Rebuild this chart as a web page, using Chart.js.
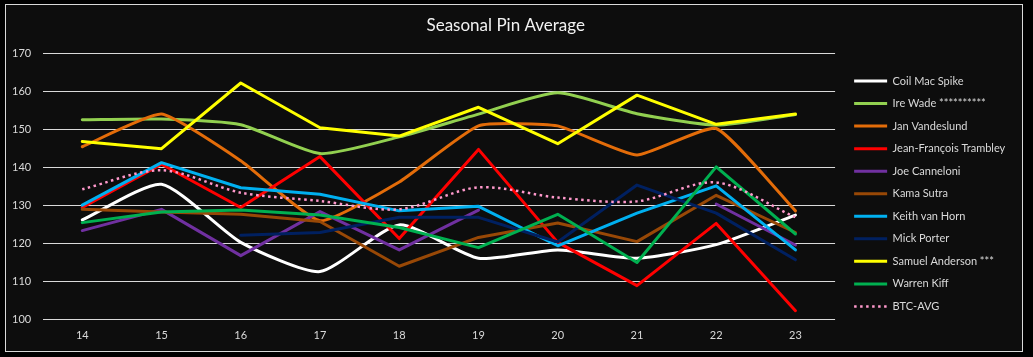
<!DOCTYPE html>
<html>
<head>
<meta charset="utf-8">
<script src="https://cdn.jsdelivr.net/npm/chart.js@4"></script>
<style>
  html, body { margin: 0; padding: 0; background: #000; }
  #frame { position: absolute; left: 5px; top: 4px; width: 1016px; height: 346px; border: 1px solid #d9d9d9; background: #0d0d0d; }
  canvas { display: block; }
</style>
</head>
<body>
<div id="frame"><canvas id="c" width="1016" height="346"></canvas></div>
<script>
const seasons = ['14','15','16','17','18','19','20','21','22','23'];

const coilMacSpike   = [126.1, 135.5, 120.2, 112.5, 124.8, 116.0, 118.2, 116.0, 119.6, 127.4];
const ireWade        = [152.5, 152.7, 151.2, 143.6, 148.0, 154.0, 159.6, 154.1, 151.1, 153.9];
const janVandeslund  = [145.4, 154.0, 141.7, 125.9, 136.1, 150.9, 150.9, 143.2, 150.2, 128.5];
const jeanFrancois   = [129.4, 140.8, 129.4, 142.8, 121.2, 144.7, 120.2, 108.8, 125.2, 102.2];
const joeCanneloni   = [123.3, 128.9, 116.7, 128.3, 118.2, 128.7, null, null, 130.3, 119.5];
const kamaSutra      = [128.9, 128.2, 127.6, 125.7, 113.9, 121.5, 125.3, 120.4, 132.6, 122.8];
const keithVanHorn   = [130.0, 141.2, 134.6, 132.9, 128.5, 129.7, 119.3, 127.9, 135.1, 118.2];
const mickPorter     = [null, null, 122.1, 122.8, 126.8, 126.8, 120.3, 135.3, 127.9, 115.6];
const samuelAnderson = [146.8, 144.9, 162.2, 150.4, 148.2, 155.8, 146.2, 159.0, 151.3, 154.0];
const warrenKiff     = [125.4, 128.2, 128.7, 127.4, 124.1, 118.8, 127.6, 114.9, 140.1, 122.4];
const btcAvg         = [134.2, 139.2, 133.3, 131.1, 128.9, 134.7, 132.0, 131.0, 136.0, 126.8];

const yTicks = [100, 110, 120, 130, 140, 150, 160, 170];

const seriesNames = ['Coil Mac Spike', 'Ire Wade **********', 'Jan Vandeslund', 'Jean-François Trambley',
  'Joe Canneloni', 'Kama Sutra', 'Keith van Horn', 'Mick Porter', 'Samuel Anderson ***', 'Warren Kiff', 'BTC-AVG'];
const seriesData = [coilMacSpike, ireWade, janVandeslund, jeanFrancois, joeCanneloni, kamaSutra,
  keithVanHorn, mickPorter, samuelAnderson, warrenKiff, btcAvg];
const seriesColors = ['#ffffff', '#92d050', '#e36c09', '#ff0000', '#7030a0', '#984806',
  '#00b0f0', '#002060', '#ffff00', '#00b050', '#ff99cc'];
const seriesTension = [0.2, 0.2, 0.15, 0, 0, 0, 0, 0, 0, 0, 0.3];

const datasets = seriesNames.map((name, i) => {
  const dotted = name === 'BTC-AVG';
  return {
    label: name,
    data: seriesData[i],
    borderColor: seriesColors[i],
    backgroundColor: seriesColors[i],
    borderWidth: dotted ? 2.5 : 3,
    borderDash: dotted ? [2.5, 3.5] : [],
    borderCapStyle: dotted ? 'butt' : 'round',
    borderJoinStyle: 'round',
    tension: seriesTension[i],
    pointRadius: 0,
    pointHoverRadius: 0,
    fill: false,
    order: -i
  };
});

new Chart(document.getElementById('c'), {
  type: 'line',
  data: { labels: seasons, datasets },
  options: {
    responsive: false,
    animation: false,
    layout: { padding: { left: -5.5, right: 11, top: 0, bottom: 0 } },
    plugins: {
      tooltip: { enabled: false },
      title: {
        display: true,
        text: 'Seasonal Pin Average',
        color: '#f2f2f2',
        font: { family: 'Lato', size: 17, weight: 'normal' },
        padding: { top: 10, bottom: 18 }
      },
      legend: {
        display: true,
        position: 'right',
        align: 'start',
        title: { display: true, text: ' ', font: { size: 1 }, padding: { top: 57.8, bottom: 0 } },
        labels: {
          color: '#d9d9d9',
          font: { family: 'Lato', size: 11 },
          usePointStyle: true,
          pointStyle: 'line',
          pointStyleWidth: 33,
          padding: 11.54,
          sort: (a, b) => a.datasetIndex - b.datasetIndex,
          generateLabels: chart => {
            const items = Chart.defaults.plugins.legend.labels.generateLabels(chart);
            items.forEach(it => {
              const ds = chart.data.datasets[it.datasetIndex];
              it.lineDash = ds.borderDash;
              it.lineWidth = ds.borderWidth;
              it.strokeStyle = ds.borderColor;
              it.lineCap = 'butt';
              it.pointStyle = 'line';
            });
            return items;
          }
        }
      }
    },
    scales: {
      x: {
        type: 'category',
        offset: true,
        grid: { display: false, drawTicks: false },
        border: { display: false },
        ticks: { color: '#d9d9d9', font: { family: 'Lato', size: 11 }, padding: 9.4, maxRotation: 0 }
      },
      y: {
        min: yTicks[0],
        max: yTicks[yTicks.length - 1],
        afterBuildTicks: s => { s.ticks = yTicks.map(v => ({ value: v })); },
        grid: { color: '#d9d9d9', lineWidth: 1, drawTicks: false },
        border: { display: false },
        ticks: { color: '#d9d9d9', font: { family: 'Lato', size: 11 }, padding: 11.5 }
      },
      spacer: {
        type: 'linear',
        position: 'right',
        display: true,
        grid: { display: false },
        border: { display: false },
        ticks: { display: false },
        afterFit: s => { s.width = 7.5; }
      }
    }
  }
});
</script>
</body>
</html>
